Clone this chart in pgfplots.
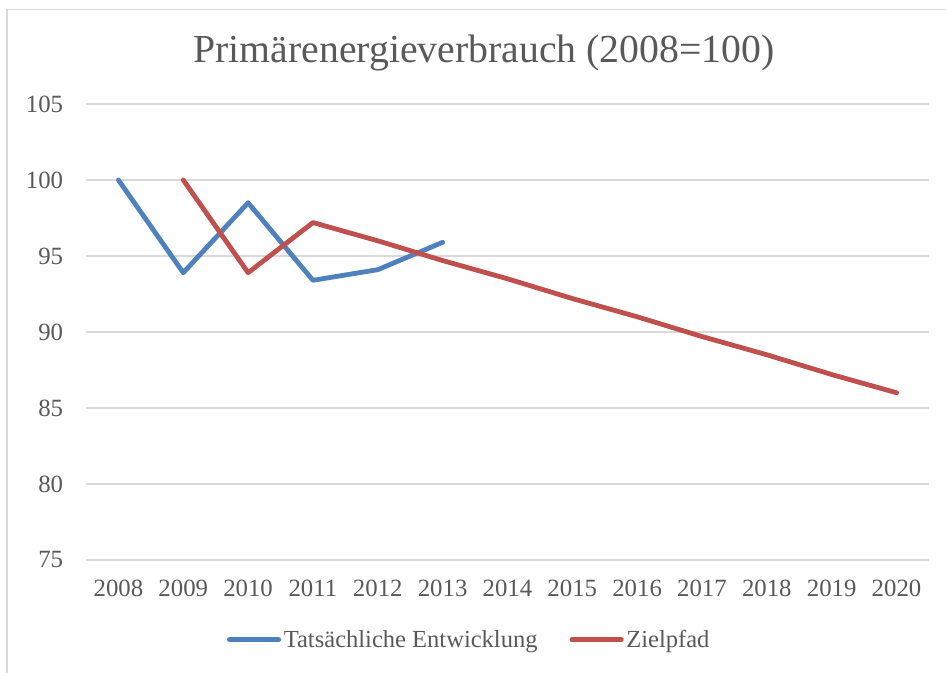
\documentclass[border=0pt]{standalone}
\usepackage{fontspec}
\setmainfont{Liberation Serif}
\usepackage{pgfplots}
\pgfplotsset{compat=1.18}
\definecolor{txt}{HTML}{595959}
\definecolor{gridc}{HTML}{D9D9D9}
\definecolor{xlblue}{HTML}{4F81BD}
\definecolor{xlred}{HTML}{C0504D}

\begin{document}
% 1 px of the reference = 0.75pt
\begin{tikzpicture}
\useasboundingbox (0,0) rectangle (709.5pt,504.75pt);
% chart frame (right and bottom edge fall outside the picture)
\draw[gridc, line width=0.9pt] (5.25pt,-10pt) -- (5.25pt,497.9pt) -- (720pt,497.9pt);
\node[font=\fontsize{29.8pt}{33pt}\selectfont, text=txt, anchor=base, inner sep=0pt]
  at (363pt,457.5pt) {Primärenergieverbrauch (2008=100)};
\begin{axis}[
  at={(64.5pt,84.75pt)}, anchor=south west,
  scale only axis, width=632.25pt, height=342pt,
  xmin=2007.5, xmax=2020.5, ymin=75, ymax=105,
  xtick={2008,...,2020}, ytick={75,80,...,105},
  axis line style={draw=none}, major tick length=0pt,
  ymajorgrids, grid style={gridc, line width=0.9pt},
  /pgf/number format/assume math mode=true,
  xticklabel={\pgfmathprintnumber[1000 sep=]{\tick}},
  yticklabel={\pgfmathprintnumber{\tick}},
  tick label style={font=\fontsize{18.6pt}{22pt}\selectfont, text=txt, inner sep=0pt},
  xticklabel style={anchor=center, yshift=-21pt},
  yticklabel style={anchor=east, xshift=-17pt},
  legend columns=2,
  legend style={at={(0.455,-0.175)}, anchor=center, draw=none, fill=none,
    font=\fontsize{18.4pt}{22pt}\selectfont, text=txt, inner xsep=0pt,
    /tikz/every even column/.append style={column sep=22pt}},
  legend image code/.code={\draw[#1, line cap=round] (0pt,0pt) -- (37pt,0pt);},
  every axis plot/.append style={line width=3.6pt, line cap=round, line join=round},
  clip=false
]
\addplot[xlblue] coordinates {
(2008,100.0)(2009,93.9)(2010,98.5)(2011,93.4)(2012,94.1)(2013,95.9)};
\addlegendentry{Tatsächliche Entwicklung}
\addplot[xlred] coordinates {
(2009,100.0)(2010,93.9)(2011,97.2)(2012,96.0)(2013,94.7)(2014,93.5)(2015,92.2)
(2016,91.0)(2017,89.7)(2018,88.5)(2019,87.2)(2020,86.0)};
\addlegendentry{Zielpfad}
\end{axis}
\end{tikzpicture}
\end{document}
